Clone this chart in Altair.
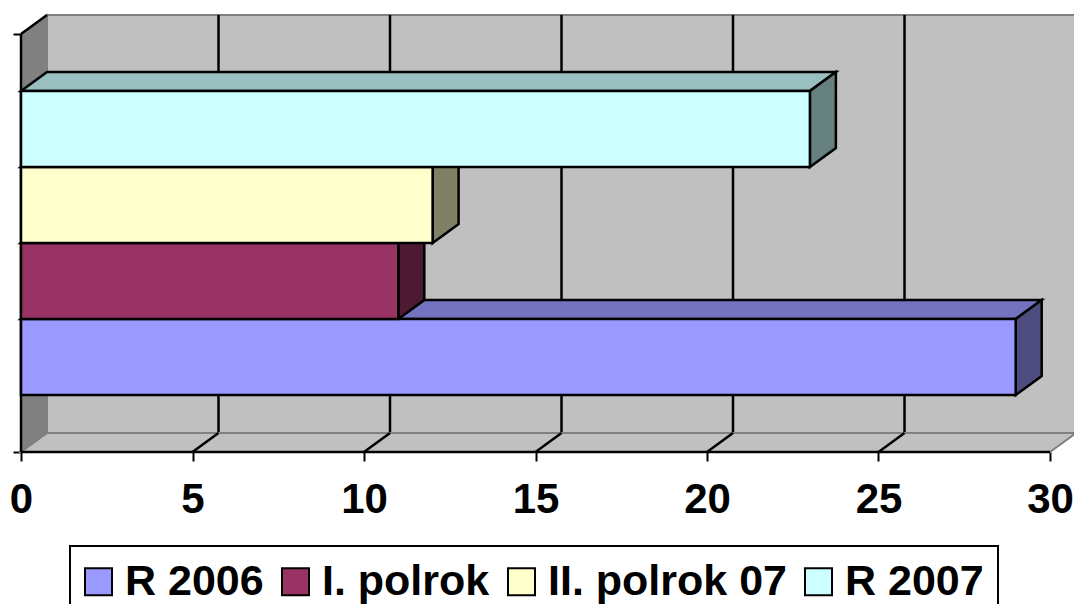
import altair as alt
import pandas as pd

# ---- data ----
SERIES = ["R 2006", "I. polrok", "II. polrok 07", "R 2007"]
VALUES = [29, 11, 12, 23]
X_TICKS = [0, 5, 10, 15, 20, 25, 30]

# ---- styles ----
FRONT_COLORS = ["#9999FF", "#993366", "#FFFFCC", "#CCFFFF"]
TOP_COLORS = ["#7373BF", "#73264D", "#BFBF99", "#99BFBF"]
SIDE_COLORS = ["#4D4D80", "#4D1A33", "#808066", "#668080"]
WALL = "#C0C0C0"
WALL_DARK = "#808080"
FONT = "Liberation Sans"
LW = 2.5

# ---- geometry (3-D depth, in data units) ----
AXIS_MAX = X_TICKS[-1]
PX_X = 34.3                     # pixels per x unit
BAR_PX = 76                     # pixels per bar slot
DX = 26 / PX_X                  # depth shift to the right
DY = 19 / BAR_PX                # depth shift upward
GAP = 0.75                      # gap above/below the bar cluster
N = len(SERIES)
Y_MIN, Y_MAX = -GAP, N + GAP + DY
W = 1053
H = round((Y_MAX - Y_MIN) * BAR_PX)

xs = alt.Scale(domain=[0, W / PX_X], nice=False, zero=False)
ys = alt.Scale(domain=[Y_MIN, Y_MAX], nice=False, zero=False)

XAX = alt.Axis(values=X_TICKS, title=None, grid=False, domain=False,
               tickColor="black", tickWidth=2, tickSize=9,
               labelFont=FONT, labelFontSize=42, labelFontWeight="bold",
               labelColor="black", labelPadding=18, labelFlush=False,
               labelOverlap=False, labelBound=False)
YAX = alt.Axis(values=[-GAP, N + GAP], title=None, grid=False, domain=False,
               labels=False, tickColor="black", tickWidth=2, tickSize=8)


def X(f="x"):
    return alt.X(f + ":Q", scale=xs, axis=XAX, title=None)


def Y(f="y"):
    return alt.Y(f + ":Q", scale=ys, axis=YAX, title=None)


# back wall
wall_df = pd.DataFrame([{"x": DX, "x2": AXIS_MAX + DX, "y": -GAP + DY, "y2": N + GAP + DY}])
back_wall = alt.Chart(wall_df).mark_rect(fill=WALL, stroke=WALL_DARK, strokeWidth=2).encode(
    x=X(), x2="x2:Q", y=Y(), y2="y2:Q")

# grid lines on back wall
grid_df = pd.DataFrame([{"x": t + DX, "y": -GAP + DY, "y2": N + GAP + DY} for t in X_TICKS[1:-1]])
grid = alt.Chart(grid_df).mark_rule(color="black", strokeWidth=LW).encode(
    x=X(), y=Y(), y2="y2:Q")

# left side wall
lw_df = pd.DataFrame([
    {"x": 0, "y": -GAP, "y2": N + GAP},
    {"x": DX, "y": -GAP + DY, "y2": N + GAP + DY},
])
left_wall = alt.Chart(lw_df).mark_area(orient="vertical", fill=WALL_DARK, stroke=WALL_DARK,
                                       strokeWidth=1.5).encode(x=X(), y=Y(), y2="y2:Q")

# floor
fl_df = pd.DataFrame([
    {"y": -GAP, "x": 0, "x2": AXIS_MAX},
    {"y": -GAP + DY, "x": DX, "x2": AXIS_MAX + DX},
])
floor = alt.Chart(fl_df).mark_area(orient="horizontal", fill=WALL, stroke=WALL_DARK,
                                   strokeWidth=2).encode(y=Y(), x=X(), x2="x2:Q")

# floor diagonals
fd_df = pd.DataFrame([{"x": t, "x2": t + DX, "y": -GAP, "y2": -GAP + DY} for t in X_TICKS[1:-1]])
floor_diag = alt.Chart(fd_df).mark_rule(color="black", strokeWidth=LW).encode(
    x=X(), x2="x2:Q", y=Y(), y2="y2:Q")

# left wall top diagonal
td_df = pd.DataFrame([{"x": 0, "x2": DX, "y": N + GAP, "y2": N + GAP + DY}])
top_diag = alt.Chart(td_df).mark_rule(color="black", strokeWidth=LW).encode(
    x=X(), x2="x2:Q", y=Y(), y2="y2:Q")

# front axis lines
fb_df = pd.DataFrame([{"x": 0, "x2": AXIS_MAX, "y": -GAP}])
front_bottom = alt.Chart(fb_df).mark_rule(color="black", strokeWidth=LW).encode(
    x=X(), x2="x2:Q", y=Y())

fl2_df = pd.DataFrame([{"x": 0, "y": -GAP, "y2": N + GAP}])
front_left = alt.Chart(fl2_df).mark_rule(color="black", strokeWidth=LW).encode(
    x=X(), y=Y(), y2="y2:Q")

# bars: top faces, side faces, front faces
tops, sides, fronts = [], [], []
for i, (s, v) in enumerate(zip(SERIES, VALUES)):
    tops.append({"series": s, "c": TOP_COLORS[i], "y": i + 1, "x": 0, "x2": v})
    tops.append({"series": s, "c": TOP_COLORS[i], "y": i + 1 + DY, "x": DX, "x2": v + DX})
    sides.append({"series": s, "c": SIDE_COLORS[i], "x": v, "y": i, "y2": i + 1})
    sides.append({"series": s, "c": SIDE_COLORS[i], "x": v + DX, "y": i + DY, "y2": i + 1 + DY})
    fronts.append({"series": s, "x": 0, "x2": v, "y": i, "y2": i + 1})

bar_tops = alt.Chart(pd.DataFrame(tops)).mark_area(
    orient="horizontal", stroke="black", strokeWidth=LW, strokeJoin="miter").encode(
    y=Y(), x=X(), x2="x2:Q", fill=alt.Fill("c:N", scale=None), detail="series:N")

bar_sides = alt.Chart(pd.DataFrame(sides)).mark_area(
    orient="vertical", stroke="black", strokeWidth=LW, strokeJoin="miter").encode(
    x=X(), y=Y(), y2="y2:Q", fill=alt.Fill("c:N", scale=None), detail="series:N")

bar_fronts = alt.Chart(pd.DataFrame(fronts)).mark_rect(
    stroke="black", strokeWidth=LW, strokeJoin="miter").encode(
    x=X(), x2="x2:Q", y=Y(), y2="y2:Q",
    color=alt.Color("series:N",
                    scale=alt.Scale(domain=SERIES, range=FRONT_COLORS),
                    legend=alt.Legend(title=None, orient="none", legendX=49, legendY=531,
                                      direction="horizontal")))

chart = alt.layer(
    back_wall, grid, left_wall, floor, floor_diag, top_diag,
    front_bottom, front_left, bar_tops, bar_sides, bar_fronts,
).properties(
    width=W, height=H,
    padding={"left": 13, "top": 7, "right": 0, "bottom": 152},
    autosize=alt.AutoSizeParams(type="none"),
    background="white",
).configure_view(stroke=None).configure_legend(
    strokeColor="black", strokeWidth=2, fillColor="white", padding=14,
    labelFont=FONT, labelFontSize=43, labelFontWeight="bold", labelColor="black",
    labelLimit=600, labelOffset=5, symbolOffset=-7, columnPadding=14,
    symbolType="square", symbolSize=729, symbolStrokeColor="black",
    symbolStrokeWidth=2, symbolOpacity=1,
)

chart.save("out.html", embed_options={"renderer": "svg", "actions": False})
